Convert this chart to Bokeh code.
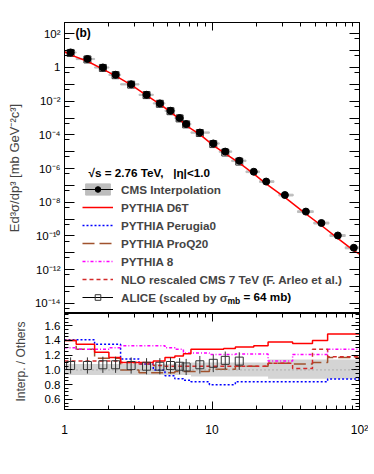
from bokeh.plotting import figure
from bokeh.layouts import column
from bokeh.models import (ColumnDataSource, FixedTicker, LogAxis, LinearAxis, CustomJSTickFormatter,
                          Legend, LegendItem, Label, Range1d, SingleIntervalTicker, PrintfTickFormatter, Span)
from bokeh.embed import file_html
from bokeh.resources import INLINE

FONT = "Liberation Sans"
NAN = float("nan")

# ---------------- data ----------------
cms_pt = [1.1, 1.43, 1.82, 2.22, 2.83, 3.6, 4.43, 5.23, 6.03, 6.68, 8.27, 10.2, 12.3, 15.3,
          19.2, 23.3, 31.2, 43.3, 55.2, 71.3, 91.5]
cms_lo = [1.0, 1.2, 1.6, 2.0, 2.4, 3.2, 4.0, 4.8, 5.6, 6.4, 7.2, 9.6, 11.2, 13.6,
          17.0, 21.0, 28.4, 38.0, 49.0, 63.0, 80.0]
cms_hi = [1.2, 1.6, 2.0, 2.4, 3.2, 4.0, 4.8, 5.6, 6.4, 7.2, 9.6, 11.2, 13.6, 17.0,
          21.0, 26.3, 35.5, 48.6, 62.0, 80.0, 100.0]
cms_val = [7.8, 3.2, 1.0, 0.37, 0.10, 0.024, 7.4e-3, 2.7e-3, 1.0e-3, 4.4e-4, 1.38e-4, 3.1e-5,
           1.02e-5, 2.9e-6, 6.5e-7, 1.7e-7, 2.7e-8, 2.8e-9, 5.9e-10, 1.07e-10, 2.0e-11]
cms_rel_err = [0.08, 0.08, 0.08, 0.08, 0.08, 0.08, 0.08, 0.08, 0.08, 0.08, 0.09, 0.09,
               0.10, 0.10, 0.11, 0.11, 0.12, 0.12, 0.13, 0.13, 0.13]

d6t_pt = [1.0, 1.1, 1.43, 1.82, 2.22, 2.83, 3.6, 4.43, 5.23, 6.03, 6.68, 8.27, 10.2, 12.3,
          15.3, 19.2, 23.3, 31.2, 43.3, 55.2, 71.3, 91.5, 100.0]
d6t_val = [8.6, 5.6, 2.35, 0.80, 0.32, 0.092, 0.022, 6.6e-3, 2.3e-3, 8.3e-4, 3.6e-4, 1.08e-4,
           2.4e-5, 7.8e-6, 2.2e-6, 4.9e-7, 1.25e-7, 1.95e-8, 2.05e-9, 4.2e-10, 7.2e-11,
           1.35e-11, 8.5e-12]

alice_pt = [1.1, 1.43, 1.82, 2.22, 2.83, 3.6, 4.43, 5.23, 6.03, 6.68, 8.27, 10.2, 12.3, 15.3]
alice_val = [7.3, 3.0, 0.94, 0.35, 0.096, 0.023, 7.0e-3, 2.55e-3, 9.5e-4, 4.2e-4, 1.29e-4,
             2.85e-5, 9.0e-6, 2.6e-6]
alice_ratio = [1.06, 1.06, 1.07, 1.07, 1.06, 1.05, 1.05, 1.06, 1.05, 1.04, 1.07, 1.09, 1.13, 1.12]
alice_err = [0.11, 0.11, 0.11, 0.11, 0.11, 0.11, 0.11, 0.11, 0.11, 0.11, 0.12, 0.12, 0.12, 0.12]

hist_edges = [1.0, 1.2, 1.6, 2.0, 2.4, 3.2, 4.0, 4.8, 5.6, 6.4, 7.2, 9.6, 12.0, 14.4, 19.2,
              24.0, 28.8, 35.2, 41.6, 48.0, 60.8, 73.6, 86.4, 100.0]
d6t_ratio = [1.40, 1.35, 1.24, 1.17, 1.10, 1.10, 1.12, 1.17, 1.19, 1.22, 1.28, 1.28, 1.29,
             1.31, 1.33, 1.38, 1.38, 1.36, 1.36, 1.40, 1.49, 1.49, 1.49]
perugia_ratio = [1.41, 1.41, 1.35, 1.35, 1.15, 1.08, 1.00, 0.92, 0.88, 0.86, 0.84, 0.80, 0.80,
                 0.84, 0.84, 0.84, 0.84, 0.84, 0.84, 0.84, 0.875, 0.875, 0.875]
proq20_ratio = [1.40, 1.28, 1.16, 1.16, 1.00, 0.96, 0.96, 0.96, 0.98, 0.98, 0.98, 1.01, 1.01,
                1.05, 1.05, 1.09, 1.09, 1.08, 1.08, 1.10, 1.17, 1.17, 1.17]
py8_ratio = [1.30, 1.28, 1.28, 1.30, 1.33, 1.33, 1.33, 1.30, 1.28, 1.23, 1.23, 1.21, 1.21,
             1.215, 1.215, 1.12, 1.12, 1.21, 1.21, 1.21, 1.28, 1.28, 1.28]
nlo_ratio = [1.12, 1.12, 1.12, 1.12, 1.10, 1.08, 1.06, 1.05, 1.05, 1.05, 1.05, 1.05, 1.05,
             1.05, 1.05, 1.09, 1.09, 1.02, 1.02, 1.28, 1.18, 1.18, 1.18]
band_hi = [1.08, 1.08, 1.08, 1.08, 1.08, 1.08, 1.08, 1.08, 1.08, 1.08, 1.10, 1.10, 1.10,
           1.10, 1.10, 1.14, 1.14, 1.14, 1.14, 1.14, 1.14, 1.14, 1.14]
band_lo = [0.93, 0.93, 0.93, 0.93, 0.93, 0.93, 0.93, 0.93, 0.93, 0.93, 0.91, 0.91, 0.91,
           0.91, 0.91, 0.88, 0.88, 0.88, 0.88, 0.88, 0.88, 0.88, 0.88]

x_major = [1, 10, 100]
x_minor = [2, 3, 4, 5, 6, 7, 8, 9, 20, 30, 40, 50, 60, 70, 80, 90]
y_major = [10.0 ** k for k in range(-14, 3)]
y_minor = [5 * 10.0 ** k for k in range(-15, 3)]

# colours / styles
C_D6T, C_PER, C_PRO, C_P8, C_NLO = "#ff0000", "#0000ff", "#a0522d", "#ff00ff", "#d42a2a"
BAND = "#d4d4d4"

sup_js = """
const sup = {"-":"\u207b","0":"\u2070","1":"\u00b9","2":"\u00b2","3":"\u00b3","4":"\u2074",
             "5":"\u2075","6":"\u2076","7":"\u2077","8":"\u2078","9":"\u2079"};
"""
ylog_fmt = CustomJSTickFormatter(code=sup_js + """
const e = Math.round(Math.log10(tick));
if (e % 2 != 0) return " ";
if (e == 0) return "1";
return "10" + String(e).split("").map(c => sup[c]).join("");
""")
xlog_fmt = CustomJSTickFormatter(code=sup_js + """
const e = Math.round(Math.log10(tick));
if (e == 0) return "1";
if (e == 1) return "10";
return "10" + String(e).split("").map(c => sup[c]).join("");
""")


def style_axis(ax, labels=True, size="12px", tick=8, minor=4):
    ax.major_tick_in = tick
    ax.major_tick_out = 0
    ax.minor_tick_in = minor
    ax.minor_tick_out = 0
    ax.axis_line_color = "black"
    ax.major_tick_line_color = "black"
    ax.minor_tick_line_color = "black"
    ax.major_label_text_font = FONT
    ax.major_label_text_color = "black"
    if labels:
        ax.major_label_text_font_size = size
    else:
        ax.major_label_text_font_size = "1px"
        ax.major_label_text_alpha = 0
        ax.major_label_standoff = 0


# ---------------- top panel ----------------
top = figure(x_axis_type="log", y_axis_type="log", x_axis_location=None,
             x_range=Range1d(1, 100), y_range=Range1d(10 ** -14.6, 10 ** 2.67),
             width=368, height=313,
             min_border_left=64, min_border_right=9, min_border_top=22, min_border_bottom=0,
             output_backend="svg", toolbar_location=None)
top.xgrid.visible = False
top.ygrid.visible = False
top.outline_line_color = "black"

xt = FixedTicker(ticks=x_major, minor_ticks=x_minor)
yt = FixedTicker(ticks=y_major, minor_ticks=y_minor)
top.yaxis.ticker = yt
top.yaxis.formatter = ylog_fmt
style_axis(top.yaxis[0], size="11.5px", tick=10, minor=5)
top.yaxis.major_label_standoff = 4
top.yaxis.axis_label = "Ed\u00b3\u03c3/dp\u00b3 [mb GeV\u207b\u00b2c\u00b3]"
top.yaxis.axis_label_text_font = FONT
top.yaxis.axis_label_text_font_style = "normal"
top.yaxis.axis_label_text_font_size = "13px"
top.yaxis.axis_label_standoff = 10

ax_top = LogAxis(ticker=xt)
style_axis(ax_top, labels=False)
top.add_layout(ax_top, "above")
ax_right = LogAxis(ticker=yt)
style_axis(ax_right, labels=False, tick=10, minor=5)
top.add_layout(ax_right, "right")

cms_src = ColumnDataSource(dict(pt=cms_pt, lo=cms_lo, hi=cms_hi, val=cms_val,
                                bot=[v * (1 - e) for v, e in zip(cms_val, cms_rel_err)],
                                top=[v * (1 + e) for v, e in zip(cms_val, cms_rel_err)]))
r_box = top.quad(left="lo", right="hi", bottom="bot", top="top", source=cms_src,
                 fill_color="#bdbdbd", line_color="#bdbdbd", line_width=1)
r_alice = top.scatter(alice_pt, alice_val, marker="square", size=7, fill_color=None,
                      line_color="#333333", line_width=1)
r_d6t = top.line(d6t_pt, d6t_val, line_color=C_D6T, line_width=1.5)
r_cms = top.scatter("pt", "val", source=cms_src, marker="circle", size=7,
                    fill_color="black", line_color="black")

# legend proxies (a single NaN row: nothing is drawn, they only carry the legend styles)
r_cms_line = top.line([1.0], [NAN], line_color="black", line_width=1)
r_per = top.line([1.0], [NAN], line_color=C_PER, line_width=1.5, line_dash="2 2")
r_pro = top.line([1.0], [NAN], line_color=C_PRO, line_width=1.5, line_dash="12 5")
r_p8 = top.line([1.0], [NAN], line_color=C_P8, line_width=1.5, line_dash="3 2 1 2")
r_nlo = top.line([1.0], [NAN], line_color=C_NLO, line_width=1.5, line_dash="4 3")
r_alice_line = top.line([1.0], [NAN], line_color="black", line_width=1)

legend = Legend(items=[
    LegendItem(label="CMS Interpolation", renderers=[r_box, r_cms_line, r_cms]),
    LegendItem(label="PYTHIA D6T", renderers=[r_d6t]),
    LegendItem(label="PYTHIA Perugia0", renderers=[r_per]),
    LegendItem(label="PYTHIA ProQ20", renderers=[r_pro]),
    LegendItem(label="PYTHIA 8", renderers=[r_p8]),
    LegendItem(label="NLO rescaled CMS 7 TeV (F. Arleo et al.)", renderers=[r_nlo]),
    LegendItem(label="ALICE (scaled by \u03c3", renderers=[r_alice_line, r_alice]),
], location=(18, 9))
legend.glyph_width = 31
legend.glyph_height = 14
legend.label_height = 14
legend.label_standoff = 8
legend.spacing = 4
legend.padding = 0
legend.margin = 0
legend.background_fill_alpha = 0
legend.border_line_alpha = 0
legend.label_text_font = FONT
legend.label_text_font_style = "bold"
legend.label_text_font_size = "11.7px"
top.add_layout(legend)

lab_kw = dict(x_units="screen", y_units="screen", text_font=FONT, text_color="black",
              text_baseline="middle")
top.add_layout(Label(x=11, y=281, text="(b)", text_font_style="bold", text_font_size="12px", **lab_kw))
top.add_layout(Label(x=24, y=141, text="\u221as = 2.76 TeV,\u00a0\u00a0\u00a0|\u03b7|<1.0",
                     text_font_style="bold", text_font_size="11.7px", **lab_kw))
top.add_layout(Label(x=163, y=13, text="mb", text_font_style="bold", text_font_size="8.5px", **lab_kw))
top.add_layout(Label(x=179, y=17, text="= 64 mb)", text_font_style="bold", text_font_size="11.7px", **lab_kw))

# ---------------- ratio panel ----------------
bot = figure(x_axis_type="log", x_range=top.x_range, y_range=Range1d(0.462, 1.767),
             width=368, height=155,
             min_border_left=64, min_border_right=9, min_border_top=0, min_border_bottom=59,
             output_backend="svg", toolbar_location=None)
bot.xgrid.visible = False
bot.ygrid.visible = False
bot.outline_line_color = "black"

bot.xaxis.ticker = xt
bot.xaxis.formatter = xlog_fmt
style_axis(bot.xaxis[0], size="12px")
bot.xaxis.major_label_standoff = 13
yrt = SingleIntervalTicker(interval=0.2, num_minor_ticks=4)
bot.yaxis.ticker = yrt
bot.yaxis.formatter = PrintfTickFormatter(format="%.1f")
style_axis(bot.yaxis[0], size="11.5px", tick=8, minor=4)
bot.yaxis.major_label_standoff = 4
bot.yaxis.axis_label = "Interp. / Others"
bot.yaxis.axis_label_text_font = FONT
bot.yaxis.axis_label_text_font_style = "normal"
bot.yaxis.axis_label_text_font_size = "12px"
bot.yaxis.axis_label_standoff = 14

bax_top = LogAxis(ticker=xt)
style_axis(bax_top, labels=False)
bot.add_layout(bax_top, "above")
bax_right = LinearAxis(ticker=yrt)
style_axis(bax_right, labels=False)
bot.add_layout(bax_right, "right")


def closed(vals):
    return list(vals) + [vals[-1]]


bot.varea_step(x=hist_edges, y1=closed(band_lo), y2=closed(band_hi), step_mode="after",
               fill_color=BAND)
bot.add_layout(Span(location=1.0, dimension="width", line_color="#888888", line_dash="1 3", line_width=1))

bot.step(hist_edges, closed(perugia_ratio), mode="after", line_color=C_PER, line_width=1.5, line_dash="2 2")
bot.step(hist_edges, closed(proq20_ratio), mode="after", line_color=C_PRO, line_width=1.5, line_dash="12 5")
bot.step(hist_edges, closed(py8_ratio), mode="after", line_color=C_P8, line_width=1.5, line_dash="3 2 1 2")
bot.step(hist_edges, closed(nlo_ratio), mode="after", line_color=C_NLO, line_width=1.5, line_dash="4 3")
bot.step(hist_edges, closed(d6t_ratio), mode="after", line_color=C_D6T, line_width=1.5)

bot.segment(x0=alice_pt, x1=alice_pt,
            y0=[r - e for r, e in zip(alice_ratio, alice_err)],
            y1=[r + e for r, e in zip(alice_ratio, alice_err)], line_color="#333333", line_width=1)
bot.scatter(alice_pt, alice_ratio, marker="square", size=8, fill_color=None,
            line_color="#333333", line_width=1)

xl_kw = dict(x_units="screen", y_units="screen", text_font=FONT, text_color="black",
             text_baseline="middle")
bot.add_layout(Label(x=109, y=-36.5, text="p", text_font_size="16px", **xl_kw))
bot.add_layout(Label(x=119, y=-48, text="T", text_font_size="11px", **xl_kw))
bot.add_layout(Label(x=130, y=-36.5, text="[GeV/c]", text_font_size="16px", **xl_kw))

layout = column(top, bot, spacing=0)
open("out.html", "w").write(file_html(layout, INLINE))
